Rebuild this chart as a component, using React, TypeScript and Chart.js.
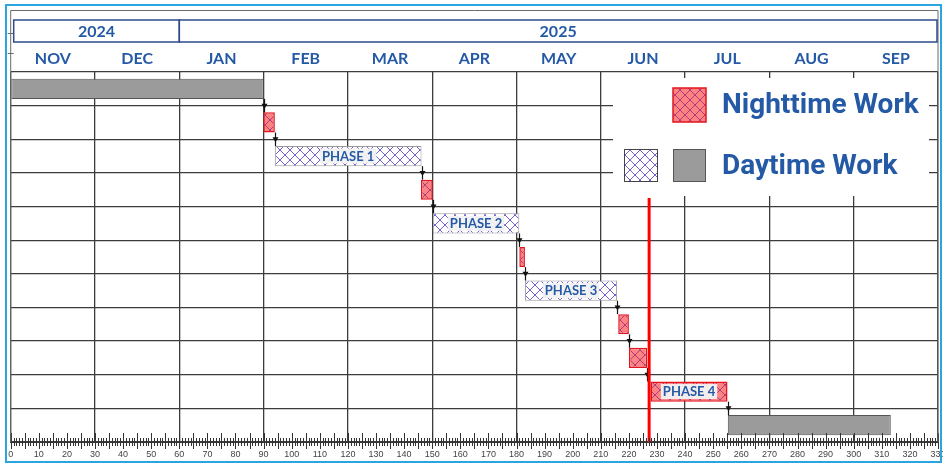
import React, { useEffect, useRef } from 'react';
import { Chart, registerables } from 'chart.js';

Chart.register(...registerables);

// ---------- data ----------
const rowLabels = ['Pre-work', 'Night 1', 'Phase 1', 'Night 2', 'Phase 2', 'Night 3', 'Phase 3', 'Night 4', 'Night 5', 'Phase 4', 'Post-work'];
const taskStart = [0, 89.9, 94, 146, 150.2, 181, 183, 216.2, 220, 227.7, 255.2];
const taskEnd = [90, 94, 146.2, 150.2, 181, 183, 215.8, 220, 226.5, 255.1, 313.2];
const taskType = ['day', 'night', 'phase', 'night', 'phase', 'night', 'phase', 'night', 'night', 'night', 'day'];
const phaseLabels = ['', '', 'PHASE 1', '', 'PHASE 2', '', 'PHASE 3', '', '', 'PHASE 4', ''];
const monthLabels = ['NOV', 'DEC', 'JAN', 'FEB', 'MAR', 'APR', 'MAY', 'JUN', 'JUL', 'AUG', 'SEP'];
const monthCenters = [15, 45, 75, 105, 135, 165, 195, 225, 255, 285, 315];
const yearLabels = ['2024', '2025'];
const yearStart = [0, 60];
const yearEnd = [60, 330];
const todayValue = 227.2;
const axisMin = 0;
const axisMax = 330;
const legendLabels = ['Nighttime Work', 'Daytime Work'];

// ---------- styles ----------
const BLUE_TEXT = '#2459a6';
const GRID = '#3c3c3c';

function makeHatch(bg: string, line: string, size = 10, lw = 1) {
  const c = document.createElement('canvas');
  c.width = size;
  c.height = size;
  const g = c.getContext('2d')!;
  g.fillStyle = bg;
  g.fillRect(0, 0, size, size);
  g.strokeStyle = line;
  g.lineWidth = lw;
  g.beginPath();
  g.moveTo(0, 0);
  g.lineTo(size, size);
  g.moveTo(size, 0);
  g.lineTo(0, size);
  g.stroke();
  return g.createPattern(c, 'repeat')!;
}

function pick(type: string) {
  return taskType.map((t, i) => (t === type ? [taskStart[i], taskEnd[i]] : null));
}

export default function App() {
  const ref = useRef<HTMLCanvasElement>(null);

  useEffect(() => {
    const canvas = ref.current!;
    const dayHatch = makeHatch('#ffffff', '#7062d4', 10, 1);
    const nightHatch = makeHatch('#ff8282', '#a8407c', 10, 1);

    const overlay = {
      id: 'overlay',
      afterDatasetsDraw(chart: any) {
        const ctx = chart.ctx as CanvasRenderingContext2D;
        const xs = chart.scales.x;
        const ys = chart.scales.y;
        const area = chart.chartArea;
        const rowH = ys.getPixelForValue(1) - ys.getPixelForValue(0);
        const half = rowH * 0.3;
        ctx.save();

        // connectors between consecutive tasks
        ctx.strokeStyle = '#111';
        ctx.fillStyle = '#111';
        ctx.lineWidth = 1.2;
        for (let i = 0; i < taskStart.length - 1; i++) {
          const x = Math.round(xs.getPixelForValue(taskEnd[i])) + 0.5;
          const y1 = ys.getPixelForValue(i) + half;
          const y2 = ys.getPixelForValue(i + 1) - half;
          const mid = (ys.getPixelForValue(i) + ys.getPixelForValue(i + 1)) / 2;
          ctx.beginPath();
          ctx.moveTo(x, y1);
          ctx.lineTo(x, y2);
          ctx.stroke();
          ctx.beginPath();
          ctx.moveTo(x - 3, mid - 2);
          ctx.lineTo(x + 3, mid - 2);
          ctx.lineTo(x, mid + 3);
          ctx.closePath();
          ctx.fill();
        }

        // phase labels
        ctx.font = 'bold 13px Lato, "Open Sans", sans-serif';
        ctx.textAlign = 'center';
        ctx.textBaseline = 'middle';
        phaseLabels.forEach((lab, i) => {
          if (!lab) return;
          const cx = (xs.getPixelForValue(taskStart[i]) + xs.getPixelForValue(taskEnd[i])) / 2;
          const cy = ys.getPixelForValue(i);
          const w = ctx.measureText(lab).width + 4;
          ctx.fillStyle = 'rgba(242,242,242,0.95)';
          ctx.fillRect(cx - w / 2, cy - 7.5, w, 15);
          ctx.fillStyle = BLUE_TEXT;
          ctx.fillText(lab, cx, cy + 0.5);
        });

        // legend box
        const lx = 613, ly = 78, lw = 316, lh = 118;
        ctx.fillStyle = '#ffffff';
        ctx.fillRect(lx, ly, lw, lh);
        // night swatch
        ctx.fillStyle = nightHatch;
        ctx.fillRect(673, 88, 33, 34);
        ctx.strokeStyle = '#e3141e';
        ctx.lineWidth = 1.5;
        ctx.strokeRect(673, 88, 33, 34);
        // day hatch swatch
        ctx.fillStyle = dayHatch;
        ctx.fillRect(624, 149, 34, 33);
        ctx.strokeStyle = '#444';
        ctx.lineWidth = 1;
        ctx.strokeRect(624.5, 149.5, 33, 32);
        // gray swatch
        ctx.fillStyle = '#9b9b9b';
        ctx.fillRect(673, 149, 33, 33);
        ctx.strokeStyle = '#555';
        ctx.strokeRect(673.5, 149.5, 32, 32);
        ctx.font = 'bold 28px Roboto, "Liberation Sans", sans-serif';
        ctx.textAlign = 'left';
        ctx.textBaseline = 'middle';
        ctx.fillStyle = BLUE_TEXT;
        ctx.fillText(legendLabels[0], 722, 106);
        ctx.fillText(legendLabels[1], 722, 167);

        // today line
        const tx = xs.getPixelForValue(todayValue);
        ctx.strokeStyle = '#ff0000';
        ctx.lineWidth = 3;
        ctx.beginPath();
        ctx.moveTo(tx, ly + lh + 2);
        ctx.lineTo(tx, area.bottom);
        ctx.stroke();

        // bottom day ticks
        ctx.strokeStyle = '#333';
        ctx.lineWidth = 1;
        ctx.beginPath();
        for (let d = axisMin; d <= axisMax; d++) {
          const x = Math.round(xs.getPixelForValue(d)) + 0.5;
          if (d % 5 === 0) {
            ctx.moveTo(x, area.bottom - 9);
            ctx.lineTo(x, area.bottom + 7);
          } else {
            ctx.moveTo(x, area.bottom - 4);
            ctx.lineTo(x, area.bottom + 4);
          }
        }
        ctx.stroke();

        // outer frame (gray)
        const fl = xs.getPixelForValue(axisMin);
        const fr = xs.getPixelForValue(axisMax);
        ctx.strokeStyle = '#6a6a6a';
        ctx.lineWidth = 1;
        ctx.beginPath();
        ctx.moveTo(fl, area.bottom);
        ctx.lineTo(fl, 10.5);
        ctx.lineTo(fr, 10.5);
        ctx.lineTo(fr, area.bottom);
        ctx.moveTo(fl - 3, 33.5);
        ctx.lineTo(fl + 3, 33.5);
        ctx.moveTo(fl - 3, 53.5);
        ctx.lineTo(fl + 3, 53.5);
        ctx.stroke();

        // year boxes
        ctx.strokeStyle = '#2c4a8a';
        ctx.lineWidth = 1.5;
        ctx.font = 'bold 16px Lato, "Open Sans", sans-serif';
        ctx.textAlign = 'center';
        ctx.textBaseline = 'middle';
        yearLabels.forEach((lab, i) => {
          const x1 = xs.getPixelForValue(yearStart[i]) + (i === 0 ? 3 : 0);
          const x2 = xs.getPixelForValue(yearEnd[i]) - (i === yearLabels.length - 1 ? 1 : 0);
          ctx.strokeRect(x1, 20, x2 - x1, 22);
          ctx.fillStyle = BLUE_TEXT;
          ctx.fillText(lab, (x1 + x2) / 2, 31.5);
        });

        // cyan outer border
        ctx.strokeStyle = '#29a6df';
        ctx.lineWidth = 2;
        ctx.strokeRect(6, 5, 935, 457);
        ctx.restore();
      },
    };

    const chart = new Chart(canvas, {
      type: 'bar',
      data: {
        labels: rowLabels,
        datasets: [
          {
            label: 'Daytime Work',
            data: pick('day') as any,
            backgroundColor: '#9b9b9b',
            borderColor: '#555555',
            borderWidth: 1,
            borderSkipped: false,
            grouped: false,
          } as any,
          {
            label: 'Daytime Phase',
            data: pick('phase') as any,
            backgroundColor: dayHatch,
            borderColor: '#9a9a9a',
            borderWidth: 1,
            borderSkipped: false,
            grouped: false,
          } as any,
          {
            label: 'Nighttime Work',
            data: pick('night') as any,
            backgroundColor: nightHatch,
            borderColor: '#e3141e',
            borderWidth: 1.5,
            borderSkipped: false,
            grouped: false,
          } as any,
        ],
      },
      options: {
        animation: false,
        responsive: false,
        indexAxis: 'y',
        datasets: { bar: { barPercentage: 0.6, categoryPercentage: 1 } },
        layout: { padding: { left: 10.7, right: 5, top: 0, bottom: 0 } },
        plugins: { legend: { display: false }, tooltip: { enabled: false } },
        scales: {
          x: {
            type: 'linear',
            position: 'bottom',
            min: axisMin,
            max: axisMax,
            ticks: {
              stepSize: 10,
              autoSkip: false,
              maxRotation: 0,
              padding: 7,
              color: '#444',
              font: { size: 9, family: '"Liberation Sans", Arial, sans-serif' },
            },
            grid: {
              drawTicks: false,
              lineWidth: 1.3,
              color: (c: any) => (c.tick && c.tick.value % 30 === 0 ? GRID : 'rgba(0,0,0,0)'),
            },
            border: { display: true, color: '#333', width: 1 },
            afterFit: (s: any) => {
              s.height = 22;
              s.paddingLeft = 0;
              s.paddingRight = 0;
            },
          },
          x2: {
            type: 'linear',
            position: 'top',
            min: axisMin,
            max: axisMax,
            afterBuildTicks: (s: any) => {
              s.ticks = monthCenters.map((v) => ({ value: v }));
            },
            ticks: {
              autoSkip: false,
              maxRotation: 0,
              padding: 4,
              color: BLUE_TEXT,
              font: { size: 16, weight: 'bold', family: 'Lato, "Open Sans", sans-serif' },
              callback: (_v: any, i: number) => monthLabels[i],
            },
            grid: { display: false, drawTicks: false },
            border: { display: false },
            afterFit: (s: any) => {
              s.height = 72;
              s.paddingLeft = 0;
              s.paddingRight = 0;
            },
          },
          y: {
            type: 'category',
            offset: true,
            ticks: { display: false },
            grid: { offset: true, color: GRID, lineWidth: 1.3, drawTicks: false },
            border: { display: false },
            afterFit: (s: any) => {
              s.width = 0;
            },
          },
        },
      } as any,
      plugins: [overlay],
    });
    return () => chart.destroy();
  }, []);

  return (
    <div style={{ position: 'fixed', left: 0, top: 0, width: 943, height: 464, background: '#fff' }}>
      <canvas ref={ref} width={943} height={464} style={{ width: 943, height: 464 }} />
    </div>
  );
}
